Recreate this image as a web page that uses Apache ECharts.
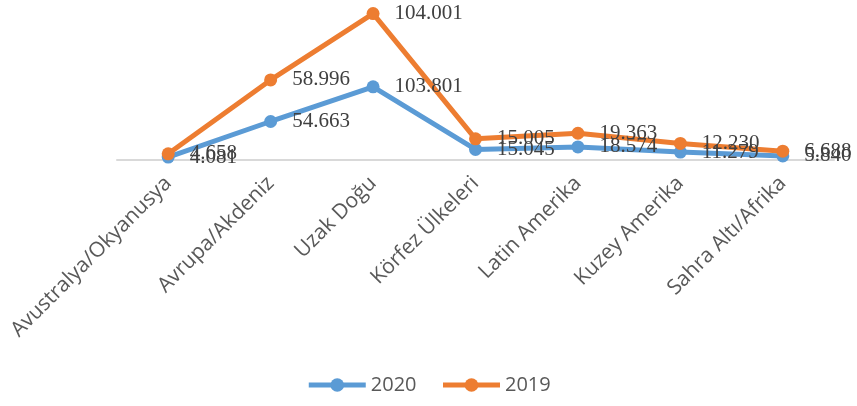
<!DOCTYPE html>
<html><head><meta charset="utf-8">
<script src="https://cdn.jsdelivr.net/npm/echarts@6/dist/echarts.min.js"></script>
<style>html,body{margin:0;padding:0;background:#fff}#c{width:857px;height:406px}</style>
</head><body><div id="c"></div>
<script>
const categories = ['Avustralya/Okyanusya','Avrupa/Akdeniz','Uzak Doğu','Körfez Ülkeleri','Latin Amerika','Kuzey Amerika','Sahra Altı/Afrika'];
const values2020 = [4.081, 54.663, 103.801, 15.045, 18.574, 11.279, 5.840];
const values2019 = [4.658, 58.996, 104.001, 15.005, 19.363, 12.230, 6.688];
const seriesNames = ['2020', '2019'];

const fmt = p => p.value.toFixed(3);
const chart = echarts.init(document.getElementById('c'));
const mk = (name, data, color) => ({
  name, type: 'line', stack: 'total', data,
  symbol: 'circle', symbolSize: 13,
  itemStyle: { color },
  lineStyle: { color, width: 5 },
  label: { show: true, position: 'right', distance: 15, formatter: fmt,
    fontFamily: 'Liberation Serif', fontSize: 21, color: '#404040' },
  emphasis: { disabled: true }, animation: false
});
chart.setOption({
  animation: false,
  grid: { left: 117, right: 23, top: 5, bottom: 246, containLabel: false },
  legend: { bottom: 6, left: 'center', itemWidth: 57, itemHeight: 17, itemGap: 24,
    lineStyle: { width: 5 },
    textStyle: { fontFamily: 'Open Sans', fontSize: 20, color: '#595959' },
    data: seriesNames },
  xAxis: { type: 'category', data: categories, boundaryGap: true,
    axisLine: { lineStyle: { color: '#d9d9d9', width: 2 } },
    axisTick: { show: false },
    axisLabel: { rotate: 45, interval: 0, margin: 20, fontFamily: 'Open Sans', fontSize: 21, color: '#595959' } },
  yAxis: { type: 'value', min: 0, max: 220, show: false, splitLine: { show: false } },
  series: [ mk(seriesNames[0], values2020, '#5B9BD5'), mk(seriesNames[1], values2019, '#ED7D31') ]
});
</script></body></html>
